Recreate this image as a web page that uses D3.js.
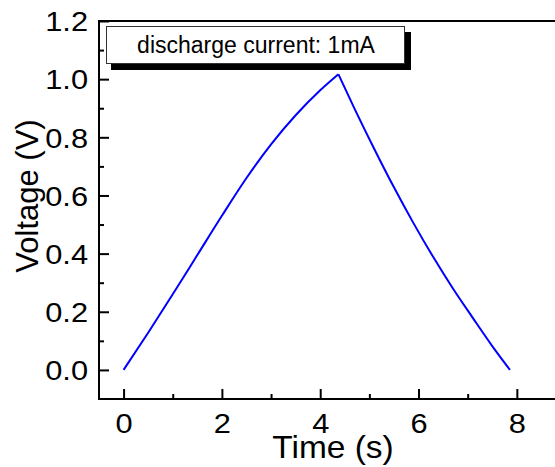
<!DOCTYPE html>
<html><head><meta charset="utf-8">
<script src="https://cdn.jsdelivr.net/npm/d3@7"></script>
<style>body{margin:0;background:#fff}svg{display:block}text{font-family:"Liberation Sans",Arial,sans-serif;fill:#000}</style>
</head><body>
<script>
const chargeTime = [0, 0.5, 1.0, 1.5, 2.0, 2.5, 3.0, 3.5, 4.0, 4.37];
const chargeVolt = [0, 0.128, 0.260, 0.395, 0.530, 0.660, 0.776, 0.876, 0.962, 1.017];
const dischargeTime = [4.37, 4.70, 5.10, 5.50, 5.90, 6.30, 6.70, 7.10, 7.50, 7.86];
const dischargeVolt = [1.017, 0.898, 0.760, 0.628, 0.504, 0.388, 0.280, 0.180, 0.082, 0.0];
const xMajor = [0, 2, 4, 6, 8];
const xMinor = [1, 3, 5, 7];
const yMajor = [0.0, 0.2, 0.4, 0.6, 0.8, 1.0, 1.2];
const yMinor = [0.1, 0.3, 0.5, 0.7, 0.9, 1.1];
const legendLabel = "discharge current: 1mA";
const xTitle = "Time (s)";
const yTitle = "Voltage (V)";

const W = 555, H = 467;
const svg = d3.select("body").append("svg").attr("width", W).attr("height", H);
const x = d3.scaleLinear().domain([-0.5, 9]).range([99, 566]);
const y = d3.scaleLinear().domain([-0.1, 1.2]).range([399, 21]);

// curve
const line = d3.line().x(d => x(d[0])).y(d => y(d[1])).curve(d3.curveMonotoneX);
const charge = chargeTime.map((t, i) => [t, chargeVolt[i]]);
const discharge = dischargeTime.map((t, i) => [t, dischargeVolt[i]]);
[charge, discharge].forEach(data => {
  svg.append("path").datum(data).attr("d", line)
    .attr("fill", "none").attr("stroke", "#0000ff").attr("stroke-width", 2)
    .attr("stroke-linejoin", "miter");
});

// axes
const xAxis = svg.append("g").attr("transform", `translate(0,${y(-0.1)})`)
  .call(d3.axisBottom(x).tickValues(xMajor).tickFormat(d3.format("d")).tickSize(-10).tickPadding(14));
const xMin = svg.append("g").attr("transform", `translate(0,${y(-0.1)})`)
  .call(d3.axisBottom(x).tickValues(xMinor).tickFormat("").tickSize(-5));
const yAxis = svg.append("g").attr("transform", `translate(${x(-0.5)},0)`)
  .call(d3.axisLeft(y).tickValues(yMajor).tickFormat(d3.format(".1f")).tickSize(-10).tickPadding(11));
const yMin = svg.append("g").attr("transform", `translate(${x(-0.5)},0)`)
  .call(d3.axisLeft(y).tickValues(yMinor).tickFormat("").tickSize(-5));
[xAxis, xMin, yAxis, yMin].forEach(g => {
  g.select(".domain").remove();
  g.selectAll(".tick line").attr("stroke", "#000").attr("stroke-width", 2);
  g.selectAll("text").style("font-size", "28px").attr("fill", "#000");
});
const sx = 1.1;
yAxis.selectAll("text").attr("dy", "0.35em")
  .attr("x", function() { return +d3.select(this).attr("x") / sx; })
  .attr("transform", `scale(${sx},1)`);
xAxis.selectAll("text").attr("dy", "0.71em")
  .attr("transform", `scale(${sx},1)`);

// frame lines: left, bottom, top
svg.append("line").attr("x1", x(-0.5)).attr("x2", x(-0.5)).attr("y1", y(1.2)).attr("y2", y(-0.1)+1)
  .attr("stroke", "#000").attr("stroke-width", 2);
svg.append("line").attr("x1", x(-0.5)-1).attr("x2", W).attr("y1", y(-0.1)).attr("y2", y(-0.1))
  .attr("stroke", "#000").attr("stroke-width", 2);
svg.append("line").attr("x1", x(-0.5)-1).attr("x2", W).attr("y1", y(1.2)).attr("y2", y(1.2))
  .attr("stroke", "#000").attr("stroke-width", 2);

// titles
svg.append("text").attr("transform", "translate(333,458) scale(1.08,1)").attr("text-anchor", "middle")
  .style("font-size", "31px").text(xTitle);
svg.append("text").attr("transform", "translate(38,196) rotate(-90)").attr("text-anchor", "middle")
  .style("font-size", "31px").text(yTitle);

// legend
const lg = svg.append("g");
lg.append("rect").attr("x", 111).attr("y", 32).attr("width", 300).attr("height", 38).attr("fill", "#000");
lg.append("rect").attr("x", 106.5).attr("y", 26.5).attr("width", 298).attr("height", 37)
  .attr("fill", "#fff").attr("stroke", "#333").attr("stroke-width", 1);
lg.append("text").attr("x", 256).attr("y", 53).attr("text-anchor", "middle")
  .style("font-size", "23px").text(legendLabel);
</script>
</body></html>
